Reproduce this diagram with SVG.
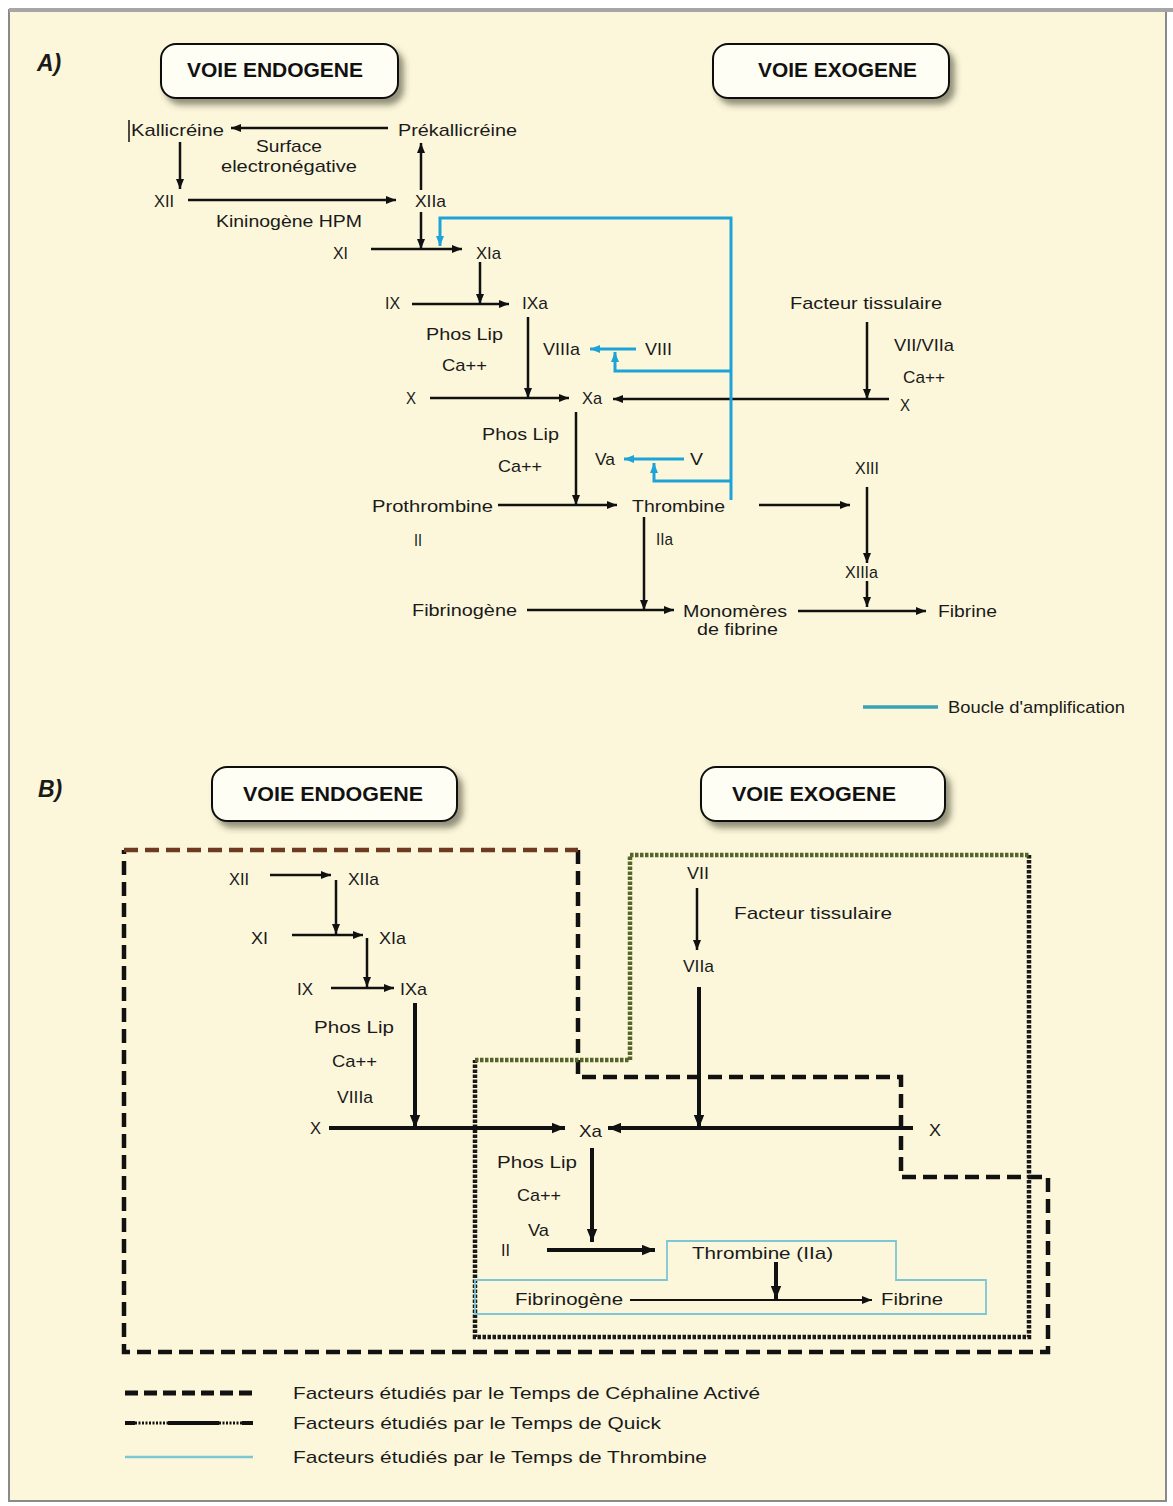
<svg xmlns="http://www.w3.org/2000/svg" width="1173" height="1506" viewBox="0 0 1173 1506">
<defs>
<style>
.t{font-family:"Liberation Sans",Arial,sans-serif;font-size:17px;fill:#1a1a1a;}
.h{font-family:"Liberation Sans",Arial,sans-serif;font-size:20px;font-weight:bold;fill:#111;}
.p{font-family:"Liberation Sans",Arial,sans-serif;font-size:23px;font-weight:bold;font-style:italic;fill:#1a1a1a;}
.hb{fill:#fffef4;stroke:#111;stroke-width:2;}
.k{fill:none;stroke:#111;stroke-width:2.5;}
.kk{fill:none;stroke:#111;stroke-width:4;}
.b{fill:none;stroke:#1ea3d8;stroke-width:3;}
.tca{fill:none;stroke:#111;stroke-width:4.5;stroke-dasharray:14 7;}
.qk{fill:none;stroke:#1a1a1a;stroke-width:4.5;stroke-dasharray:3.5 1.5;}
.tt{fill:none;stroke:#7cc6d6;stroke-width:1.8;}
</style>
<filter id="sh" x="-10%" y="-20%" width="130%" height="160%">
<feDropShadow dx="5" dy="6" stdDeviation="3" flood-color="#3a3a2a" flood-opacity="0.55"/>
</filter>
<marker id="a" viewBox="0 0 10 8" refX="10" refY="4" markerWidth="10" markerHeight="8" markerUnits="userSpaceOnUse" orient="auto"><path d="M0,0 L10,4 L0,8 Z" fill="#111"/></marker>
<marker id="ab" viewBox="0 0 10 8" refX="10" refY="4" markerWidth="13" markerHeight="11" markerUnits="userSpaceOnUse" orient="auto"><path d="M0,0 L10,4 L0,8 Z" fill="#111"/></marker>
<marker id="bl" viewBox="0 0 10 8" refX="10" refY="4" markerWidth="10" markerHeight="8" markerUnits="userSpaceOnUse" orient="auto"><path d="M0,0 L10,4 L0,8 Z" fill="#1ea3d8"/></marker>
</defs>

<rect x="0" y="0" width="1173" height="1506" fill="#ffffff"/>
<g id="frame">
<rect x="9" y="10" width="1157" height="1491" fill="#fcf7da" stroke="#8a8a8a" stroke-width="2"/>
<line x1="9" y1="10" x2="1173" y2="10" stroke="#a6a6a6" stroke-width="4"/>
</g>

<!-- Panel A headers -->
<g id="labelA"><text class="p" x="37" y="71">A)</text></g>
<g id="A-endogene"><rect class="hb" x="161" y="44" width="237" height="54" rx="15" filter="url(#sh)"/><text class="h" x="187" y="77" textLength="176" lengthAdjust="spacingAndGlyphs">VOIE ENDOGENE</text></g>
<g id="A-exogene"><rect class="hb" x="713" y="44" width="236" height="54" rx="15" filter="url(#sh)"/><text class="h" x="758" y="77" textLength="159" lengthAdjust="spacingAndGlyphs">VOIE EXOGENE</text></g>

<!-- Panel A connectors -->
<g id="connectors-A">
<line class="k" x1="388" y1="128" x2="231" y2="128" marker-end="url(#a)"/>
<line class="k" x1="180" y1="142" x2="180" y2="189" marker-end="url(#a)"/>
<line class="k" x1="188" y1="200" x2="396" y2="200" marker-end="url(#a)"/>
<line class="k" x1="421" y1="190" x2="421" y2="143" marker-end="url(#a)"/>
<line class="k" x1="421" y1="212" x2="421" y2="249" marker-end="url(#a)"/>
<line class="k" x1="371" y1="249" x2="462" y2="249" marker-end="url(#a)"/>
<line class="k" x1="480" y1="262" x2="480" y2="304" marker-end="url(#a)"/>
<line class="k" x1="412" y1="304" x2="509" y2="304" marker-end="url(#a)"/>
<line class="k" x1="528" y1="317" x2="528" y2="398" marker-end="url(#a)"/>
<line class="k" x1="430" y1="398" x2="569" y2="398" marker-end="url(#a)"/>
<line class="k" x1="889" y1="399" x2="613" y2="399" marker-end="url(#a)"/>
<line class="k" x1="867" y1="322" x2="867" y2="399" marker-end="url(#a)"/>
<line class="k" x1="576" y1="412" x2="576" y2="505" marker-end="url(#a)"/>
<line class="k" x1="498" y1="505" x2="617" y2="505" marker-end="url(#a)"/>
<line class="k" x1="759" y1="505" x2="850" y2="505" marker-end="url(#a)"/>
<line class="k" x1="867" y1="487" x2="867" y2="563" marker-end="url(#a)"/>
<line class="k" x1="867" y1="581" x2="867" y2="607" marker-end="url(#a)"/>
<line class="k" x1="644" y1="517" x2="644" y2="610" marker-end="url(#a)"/>
<line class="k" x1="527" y1="610" x2="674" y2="610" marker-end="url(#a)"/>
<line class="k" x1="798" y1="611" x2="926" y2="611" marker-end="url(#a)"/>
<!-- amplification loop -->
<path class="b" d="M731,500 V218 H440 V246" marker-end="url(#bl)"/>
<line class="b" x1="636" y1="349" x2="590" y2="349" marker-end="url(#bl)"/>
<path class="b" d="M731,371 H615 V352" marker-end="url(#bl)"/>
<line class="b" x1="684" y1="459" x2="624" y2="459" marker-end="url(#bl)"/>
<path class="b" d="M731,481 H654 V463" marker-end="url(#bl)"/>
<line x1="863" y1="707" x2="938" y2="707" stroke="#3aa3b6" stroke-width="3.5"/>
</g>

<!-- Panel A nodes -->
<g id="A-kallicreine"><line x1="129" y1="120" x2="129" y2="142" stroke="#111" stroke-width="1.5"/><text class="t" x="131" y="136" textLength="93" lengthAdjust="spacingAndGlyphs">Kallicréine</text></g>
<g id="A-prekallicreine"><text class="t" x="398" y="136" textLength="119" lengthAdjust="spacingAndGlyphs">Prékallicréine</text></g>
<g id="A-surface"><text class="t" x="256" y="152" textLength="66" lengthAdjust="spacingAndGlyphs">Surface</text><text class="t" x="221" y="172" textLength="136" lengthAdjust="spacingAndGlyphs">electronégative</text></g>
<g id="A-XII"><text class="t" x="154" y="207" textLength="20" lengthAdjust="spacingAndGlyphs">XII</text></g>
<g id="A-XIIa"><text class="t" x="415" y="207" textLength="31" lengthAdjust="spacingAndGlyphs">XIIa</text></g>
<g id="A-kininogene"><text class="t" x="216" y="227" textLength="146" lengthAdjust="spacingAndGlyphs">Kininogène HPM</text></g>
<g id="A-XI"><text class="t" x="333" y="259" textLength="15" lengthAdjust="spacingAndGlyphs">XI</text></g>
<g id="A-XIa"><text class="t" x="476" y="259" textLength="25" lengthAdjust="spacingAndGlyphs">XIa</text></g>
<g id="A-IX"><text class="t" x="385" y="309" textLength="15" lengthAdjust="spacingAndGlyphs">IX</text></g>
<g id="A-IXa"><text class="t" x="522" y="309" textLength="26" lengthAdjust="spacingAndGlyphs">IXa</text></g>
<g id="A-cof1"><text class="t" x="426" y="340" textLength="77" lengthAdjust="spacingAndGlyphs">Phos Lip</text><text class="t" x="442" y="371" textLength="45" lengthAdjust="spacingAndGlyphs">Ca++</text></g>
<g id="A-VIIIa"><text class="t" x="543" y="355" textLength="37" lengthAdjust="spacingAndGlyphs">VIIIa</text></g>
<g id="A-VIII"><text class="t" x="645" y="355" textLength="27" lengthAdjust="spacingAndGlyphs">VIII</text></g>
<g id="A-X"><text class="t" x="406" y="404" textLength="10" lengthAdjust="spacingAndGlyphs">X</text></g>
<g id="A-Xa"><text class="t" x="582" y="404" textLength="20" lengthAdjust="spacingAndGlyphs">Xa</text></g>
<g id="A-facteur"><text class="t" x="790" y="309" textLength="152" lengthAdjust="spacingAndGlyphs">Facteur tissulaire</text></g>
<g id="A-cofext"><text class="t" x="894" y="351" textLength="60" lengthAdjust="spacingAndGlyphs">VII/VIIa</text><text class="t" x="903" y="383" textLength="42" lengthAdjust="spacingAndGlyphs">Ca++</text></g>
<g id="A-Xext"><text class="t" x="900" y="411" textLength="10" lengthAdjust="spacingAndGlyphs">X</text></g>
<g id="A-cof2"><text class="t" x="482" y="440" textLength="77" lengthAdjust="spacingAndGlyphs">Phos Lip</text><text class="t" x="498" y="472" textLength="44" lengthAdjust="spacingAndGlyphs">Ca++</text></g>
<g id="A-Va"><text class="t" x="595" y="465" textLength="20" lengthAdjust="spacingAndGlyphs">Va</text></g>
<g id="A-V"><text class="t" x="690" y="465" textLength="13" lengthAdjust="spacingAndGlyphs">V</text></g>
<g id="A-prothrombine"><text class="t" x="372" y="512" textLength="121" lengthAdjust="spacingAndGlyphs">Prothrombine</text><text class="t" x="414" y="546" textLength="8" lengthAdjust="spacingAndGlyphs">II</text></g>
<g id="A-thrombine"><text class="t" x="632" y="512" textLength="93" lengthAdjust="spacingAndGlyphs">Thrombine</text><text class="t" x="656" y="545" textLength="17" lengthAdjust="spacingAndGlyphs">IIa</text></g>
<g id="A-XIII"><text class="t" x="855" y="474" textLength="24" lengthAdjust="spacingAndGlyphs">XIII</text></g>
<g id="A-XIIIa"><text class="t" x="845" y="578" textLength="33" lengthAdjust="spacingAndGlyphs">XIIIa</text></g>
<g id="A-fibrinogene"><text class="t" x="412" y="616" textLength="105" lengthAdjust="spacingAndGlyphs">Fibrinogène</text></g>
<g id="A-monomeres"><text class="t" x="683" y="617" textLength="104" lengthAdjust="spacingAndGlyphs">Monomères</text><text class="t" x="697" y="635" textLength="81" lengthAdjust="spacingAndGlyphs">de fibrine</text></g>
<g id="A-fibrine"><text class="t" x="938" y="617" textLength="59" lengthAdjust="spacingAndGlyphs">Fibrine</text></g>
<g id="A-legend"><text class="t" x="948" y="713" textLength="177" lengthAdjust="spacingAndGlyphs">Boucle d'amplification</text></g>

<!-- Panel B headers -->
<g id="labelB"><text class="p" x="38" y="797">B)</text></g>
<g id="B-endogene"><rect class="hb" x="212" y="767" width="245" height="54" rx="15" filter="url(#sh)"/><text class="h" x="243" y="801" textLength="180" lengthAdjust="spacingAndGlyphs">VOIE ENDOGENE</text></g>
<g id="B-exogene"><rect class="hb" x="701" y="767" width="244" height="54" rx="15" filter="url(#sh)"/><text class="h" x="732" y="801" textLength="164" lengthAdjust="spacingAndGlyphs">VOIE EXOGENE</text></g>

<!-- Panel B regions and connectors -->
<g id="connectors-B">
<path class="tca" d="M578,850 V1077 H901 V1177 H1048 V1352 H124 V850"/>
<line class="tca" x1="124" y1="850" x2="578" y2="850" style="stroke:#6e3a22"/>
<path class="qk" d="M1029,855 V1337 H475 V1060"/>
<path class="qk" d="M475,1060 H630 V855 H1029" style="stroke:#55652a"/>
<path class="tt" d="M475,1280 H667 V1241 H896 V1280 H986 V1314 H475 Z"/>

<line class="k" x1="270" y1="875" x2="331" y2="875" marker-end="url(#a)"/>
<line class="k" x1="336" y1="880" x2="336" y2="934" marker-end="url(#a)"/>
<line class="k" x1="292" y1="935" x2="363" y2="935" marker-end="url(#a)"/>
<line class="k" x1="367" y1="938" x2="367" y2="987" marker-end="url(#a)"/>
<line class="k" x1="331" y1="988" x2="394" y2="988" marker-end="url(#a)"/>
<line class="kk" x1="415" y1="1003" x2="415" y2="1128" marker-end="url(#ab)"/>
<line class="kk" x1="329" y1="1128" x2="565" y2="1128" marker-end="url(#ab)"/>
<line class="kk" x1="913" y1="1128" x2="608" y2="1128" marker-end="url(#ab)"/>
<line class="k" x1="697" y1="888" x2="697" y2="950" marker-end="url(#a)"/>
<line class="kk" x1="699" y1="987" x2="699" y2="1128" marker-end="url(#ab)"/>
<line class="kk" x1="592" y1="1148" x2="592" y2="1242" marker-end="url(#ab)"/>
<line class="kk" x1="547" y1="1250" x2="655" y2="1250" marker-end="url(#ab)"/>
<line class="kk" x1="776" y1="1262" x2="776" y2="1299" marker-end="url(#ab)"/>
<line x1="630" y1="1300" x2="872" y2="1300" stroke="#111" stroke-width="2" marker-end="url(#a)"/>
</g>

<!-- Panel B nodes -->
<g id="B-XII"><text class="t" x="229" y="885" textLength="20" lengthAdjust="spacingAndGlyphs">XII</text></g>
<g id="B-XIIa"><text class="t" x="348" y="885" textLength="31" lengthAdjust="spacingAndGlyphs">XIIa</text></g>
<g id="B-XI"><text class="t" x="251" y="944" textLength="17" lengthAdjust="spacingAndGlyphs">XI</text></g>
<g id="B-XIa"><text class="t" x="379" y="944" textLength="27" lengthAdjust="spacingAndGlyphs">XIa</text></g>
<g id="B-IX"><text class="t" x="297" y="995" textLength="16" lengthAdjust="spacingAndGlyphs">IX</text></g>
<g id="B-IXa"><text class="t" x="400" y="995" textLength="27" lengthAdjust="spacingAndGlyphs">IXa</text></g>
<g id="B-cof1"><text class="t" x="314" y="1033" textLength="80" lengthAdjust="spacingAndGlyphs">Phos Lip</text><text class="t" x="332" y="1067" textLength="45" lengthAdjust="spacingAndGlyphs">Ca++</text><text class="t" x="337" y="1103" textLength="36" lengthAdjust="spacingAndGlyphs">VIIIa</text></g>
<g id="B-X"><text class="t" x="310" y="1134" textLength="11" lengthAdjust="spacingAndGlyphs">X</text></g>
<g id="B-Xa"><text class="t" x="579" y="1137" textLength="23" lengthAdjust="spacingAndGlyphs">Xa</text></g>
<g id="B-Xext"><text class="t" x="929" y="1136" textLength="12" lengthAdjust="spacingAndGlyphs">X</text></g>
<g id="B-VII"><text class="t" x="687" y="879" textLength="22" lengthAdjust="spacingAndGlyphs">VII</text></g>
<g id="B-facteur"><text class="t" x="734" y="919" textLength="158" lengthAdjust="spacingAndGlyphs">Facteur tissulaire</text></g>
<g id="B-VIIa"><text class="t" x="683" y="972" textLength="31" lengthAdjust="spacingAndGlyphs">VIIa</text></g>
<g id="B-cof2"><text class="t" x="497" y="1168" textLength="80" lengthAdjust="spacingAndGlyphs">Phos Lip</text><text class="t" x="517" y="1201" textLength="44" lengthAdjust="spacingAndGlyphs">Ca++</text><text class="t" x="528" y="1236" textLength="21" lengthAdjust="spacingAndGlyphs">Va</text></g>
<g id="B-II"><text class="t" x="501" y="1256" textLength="9" lengthAdjust="spacingAndGlyphs">II</text></g>
<g id="B-thrombine"><text class="t" x="692" y="1259" textLength="141" lengthAdjust="spacingAndGlyphs">Thrombine (IIa)</text></g>
<g id="B-fibrinogene"><text class="t" x="515" y="1305" textLength="108" lengthAdjust="spacingAndGlyphs">Fibrinogène</text></g>
<g id="B-fibrine"><text class="t" x="881" y="1305" textLength="62" lengthAdjust="spacingAndGlyphs">Fibrine</text></g>

<!-- Legend B -->
<g id="B-legend">
<line x1="125" y1="1393" x2="253" y2="1393" stroke="#111" stroke-width="5" stroke-dasharray="13 6"/>
<line x1="125" y1="1423" x2="135" y2="1423" stroke="#111" stroke-width="4"/>
<line x1="135" y1="1423" x2="168" y2="1423" stroke="#111" stroke-width="3" stroke-dasharray="2 1.5"/>
<line x1="168" y1="1423" x2="219" y2="1423" stroke="#111" stroke-width="4"/>
<line x1="219" y1="1423" x2="242" y2="1423" stroke="#111" stroke-width="3" stroke-dasharray="2 1.5"/>
<line x1="242" y1="1423" x2="253" y2="1423" stroke="#111" stroke-width="4"/>
<line x1="125" y1="1457" x2="253" y2="1457" stroke="#7cc6d6" stroke-width="2.5"/>
<text class="t" x="293" y="1399" textLength="467" lengthAdjust="spacingAndGlyphs">Facteurs étudiés par le Temps de Céphaline Activé</text>
<text class="t" x="293" y="1429" textLength="368" lengthAdjust="spacingAndGlyphs">Facteurs étudiés par le Temps de Quick</text>
<text class="t" x="293" y="1463" textLength="414" lengthAdjust="spacingAndGlyphs">Facteurs étudiés par le Temps de Thrombine</text>
</g>
</svg>
